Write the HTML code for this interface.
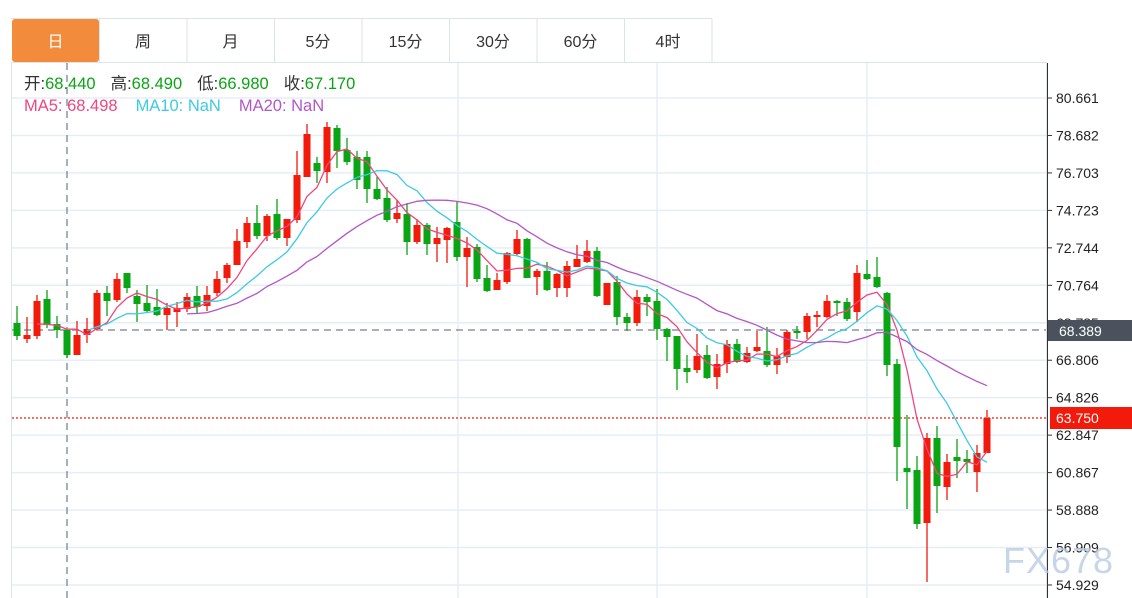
<!DOCTYPE html>
<html><head><meta charset="utf-8"><style>
body{margin:0;width:1132px;height:598px;background:#fff;overflow:hidden;font-family:"Liberation Sans","Noto Sans CJK SC",sans-serif;}
</style></head><body>
<svg id="s" width="1132" height="598" xmlns="http://www.w3.org/2000/svg" style="position:absolute;left:0;top:0">
</svg>
<script>
const s=document.getElementById('s');let h='';
h+='<line x1="11" y1="18.5" x2="712" y2="18.5" stroke="#dde3ea"/>';
const tabs=['日','周','月','5分','15分','30分','60分','4时'];
for(let i=0;i<8;i++){const x=12+i*87.5;
 if(i==0)h+='<rect x="12" y="19" width="87" height="43" rx="3" fill="#f28c3c"/>';
 h+='<line x1="'+(x+87.5)+'" y1="19" x2="'+(x+87.5)+'" y2="62" stroke="#dde3ea"/>';
 h+='<text x="'+(x+43.5)+'" y="47" text-anchor="middle" font-size="16" fill="'+(i==0?'#fff':'#333')+'">'+tabs[i]+'</text>';}
h+='<rect x="11.5" y="62.5" width="1035" height="540" fill="none" stroke="#dde3ea"/>';
const ticks=['80.661','78.682','76.703','74.723','72.744','70.764','68.785','66.806','64.826','62.847','60.867','58.888','56.909','54.929'];
ticks.forEach((t,i)=>{const y=98+i*37.46;
 h+='<line x1="12" y1="'+y+'" x2="1046" y2="'+y+'" stroke="#e6eef5" stroke-width="1.5"/>';
 h+='<line x1="1047" y1="'+y+'" x2="1052" y2="'+y+'" stroke="#333"/>';
 h+='<text x="1056" y="'+(y+5)+'" font-size="14" fill="#222">'+t+'</text>';});
[458,657,867].forEach(x=>h+='<line x1="'+x+'" y1="63" x2="'+x+'" y2="598" stroke="#e6eef5" stroke-width="1.5"/>');
h+='<line x1="1047.5" y1="63" x2="1047.5" y2="598" stroke="#333"/>';
const C=[['g',323,336,306,340],['r',335,339,317,343],['r',301,336,295,339],['g',299,325,290,328],['g',324,330,316,338],['g',330,355,330,358],['r',335,355,321,355],['r',329,335,318,343],['r',293,329,290,330],['g',293,301,286,316],
['r',279,300,273,302],['g',273,288,273,293],['g',296,304,290,322],['g',303,311,285,312],['g',307,315,289,316],['r',308,315,303,330],['r',308,312,302,327],['r',297,309,293,312],['g',296,307,286,313],['r',295,306,286,311],
['r',279,293,271,296],['r',265,278,263,283],['r',241,265,229,265],['r',223,242,217,248],['g',223,236,205,239],['r',216,236,214,241],['g',214,238,199,240],['r',219,238,219,246],['r',175,220,151,223],['r',134,177,124,177],
['g',163,171,157,183],['r',127,172,122,183],['g',128,151,125,168],['g',150,162,138,165],['g',157,180,151,189],['g',157,189,151,203],['g',189,199,177,200],['g',198,220,187,222],['r',213,219,200,223],['g',214,242,203,255],
['r',225,242,220,244],['g',225,244,223,255],['r',238,244,227,262],['r',228,240,227,263],['g',222,257,202,261],['r',248,257,237,287],['g',247,279,244,282],['g',278,291,265,292],['r',280,290,273,290],['r',253,282,252,284],
['r',239,254,230,255],['g',239,278,238,278],['r',271,277,269,295],['g',271,290,262,291],['r',274,288,273,297],['r',266,288,261,297],['r',259,267,245,267],['r',251,262,240,263],['g',251,296,247,297],['r',283,305,283,305],
['g',282,317,276,325],['g',317,323,313,331],['r',297,323,290,326],['g',297,302,294,316],['g',301,329,289,340],['g',329,337,328,361],['g',336,369,336,390],['g',368,372,355,383],['r',356,370,334,373],['g',355,378,345,379],
['r',364,377,354,389],['r',344,364,340,373],['g',344,362,339,363],['r',353,362,347,363],['r',347,351,331,352],['g',351,365,327,367],['r',356,365,348,374],['r',332,357,330,363],['g',331,333,326,339],['r',316,332,313,339],
['r',315,317,311,327],['r',301,317,295,318],['g',301,303,300,316],['g',302,319,298,321],['r',273,312,265,322],['g',274,279,260,280],['g',277,287,257,288],['g',293,365,292,376],['g',364,447,359,481],['g',468,472,415,509],
['g',470,524,456,529],['r',438,523,433,582],['g',438,486,426,513],['r',462,487,454,500],['g',457,461,439,478],['g',459,462,450,473],['r',453,472,445,492],['r',418,453,410,453]];
const cl=C.map(c=>c[0]=='r'?c[1]:c[2]);
h+='<line x1="12" y1="330" x2="1046" y2="330" stroke="#8a95a3" stroke-width="1.5" stroke-dasharray="7,5"/>';
h+='<line x1="12" y1="418" x2="1046" y2="418" stroke="#f21a0a" stroke-width="1.2" stroke-dasharray="2,2"/>';
h+='<line x1="67" y1="63" x2="67" y2="598" stroke="#8a95a3" stroke-width="1.5" stroke-dasharray="7,5"/>';
C.forEach((c,i)=>{const x=17+10*i,col=c[0]=='r'?'#f21a0a':'#0aa515';
 h+='<line x1="'+x+'" y1="'+c[3]+'" x2="'+x+'" y2="'+c[4]+'" stroke="'+col+'" stroke-width="1.3"/>';
 h+='<rect x="'+(x-3.5)+'" y="'+c[1]+'" width="7" height="'+Math.max(2,c[2]-c[1])+'" fill="'+col+'"/>';});
function ma(n,st,col){let p=[];for(let i=st;i<C.length;i++){let a=Math.max(0,i-n+1),sum=0;for(let j=a;j<=i;j++)sum+=cl[j];p.push((17+10*i)+','+(sum/(i-a+1)).toFixed(1));}
 h+='<polyline points="'+p.join(' ')+'" fill="none" stroke="'+col+'" stroke-width="1.3"/>';}
ma(5,2,'#f0467e');ma(10,7,'#3ccbe0');ma(20,17,'#b455c8');
h+='<rect x="1048" y="320" width="84" height="21" fill="#4b525e"/><text x="1059" y="336" font-size="14" fill="#fff">68.389</text>';
h+='<rect x="1050" y="407" width="82" height="22" fill="#f21a0a"/><text x="1056" y="423" font-size="14" fill="#fff">63.750</text>';
h+='<text x="24" y="89" font-size="16.5"><tspan fill="#333">开:</tspan><tspan fill="#0aa515">68.440</tspan><tspan fill="#333" dx="15">高:</tspan><tspan fill="#0aa515">68.490</tspan><tspan fill="#333" dx="15">低:</tspan><tspan fill="#0aa515">66.980</tspan><tspan fill="#333" dx="15">收:</tspan><tspan fill="#0aa515">67.170</tspan></text>';
h+='<text x="24" y="111" font-size="16.5"><tspan fill="#f0467e">MA5: 68.498</tspan><tspan fill="#3ccbe0" dx="18">MA10: NaN</tspan><tspan fill="#b455c8" dx="18">MA20: NaN</tspan></text>';
h+='<text x="1003" y="573" font-size="36" fill="#b9cde3" opacity="0.8" letter-spacing="1">FX678</text>';
s.innerHTML=h;
</script>
</body></html>
